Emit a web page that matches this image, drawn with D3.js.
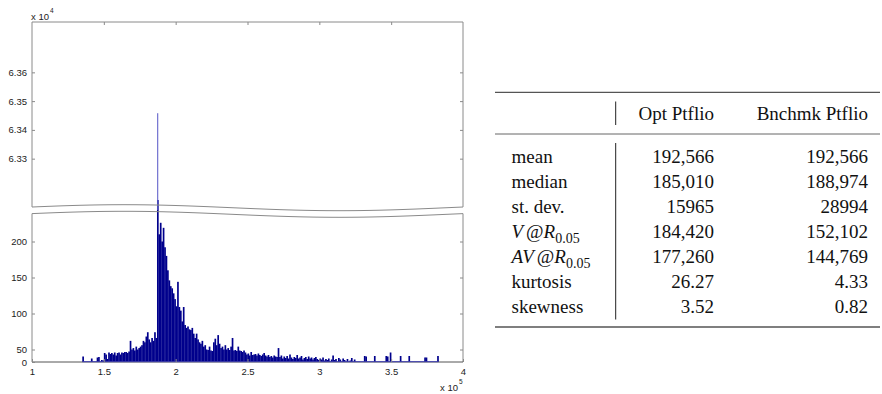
<!DOCTYPE html>
<html><head><meta charset="utf-8">
<script src="https://cdn.jsdelivr.net/npm/d3@7"></script>
</head><body style="margin:0;background:#fff">
<svg id="s" width="882" height="394" style="display:block"></svg>
<script>
// ---------- DATA ----------
const binStart = 135000;   // left edge of first histogram bin
const binWidth = 1000;     // bin width
const counts = [
  22, 0, 0, 0, 0, 0, 14, 0, 0, 0,            // 135k-144k
  18, 20, 0, 8, 6, 36, 30, 12, 38, 32,       // 145k-154k
  36, 30, 38, 26, 36, 38, 30, 38, 36, 40,    // 155k-164k
  40, 36, 42, 62, 50, 52, 46, 54, 50, 52,    // 165k-174k
  54, 56, 62, 60, 68, 74, 64, 60, 66, 62,    // 175k-184k
  74, 66, 63458, 210, 226, 200, 219, 192, 180, 160, // 185k-194k
  146, 138, 135, 128, 120, 110, 144, 109, 104, 89,  // 195k-204k
  109, 84, 80, 82, 78, 77, 80, 72, 66, 72,   // 205k-214k
  64, 60, 58, 62, 54, 56, 50, 48, 54, 46,    // 215k-224k
  44, 60, 65, 56, 70, 58, 52, 54, 50, 56,    // 225k-234k
  50, 52, 48, 54, 66, 46, 48, 44, 54, 46,    // 235k-244k
  44, 40, 46, 38, 30, 34, 26, 40, 28, 30,    // 245k-254k
  32, 26, 34, 28, 24, 30, 36, 26, 22, 28,    // 255k-264k
  20, 24, 18, 26, 22, 20, 52, 20, 26, 14,    // 265k-274k
  22, 16, 24, 14, 30, 18, 12, 20, 16, 28,    // 275k-284k
  14, 18, 24, 10, 16, 20, 12, 22, 14, 18,    // 285k-294k
  10, 16, 20, 12, 8, 14, 10, 18, 6, 12,      // 295k-304k
  8, 14, 0, 10, 26, 8, 12, 0, 16, 10,        // 305k-314k
  0, 14, 8, 0, 12, 0, 6, 16, 0, 10,          // 315k-324k
  0, 0, 0, 0, 0, 0, 24, 22, 0, 0,            // 325k-334k
  0, 0, 0, 24, 0, 0, 0, 0, 0, 0,             // 335k-344k
  0, 24, 22, 0, 38, 0, 0, 0, 0, 0,           // 345k-354k
  0, 24, 0, 0, 0, 0, 0, 24, 0, 0,            // 355k-364k
  0, 0, 0, 0, 0, 0, 0, 0, 18, 18,            // 365k-374k
  0, 0, 0, 0, 0, 0, 0, 24                    // 375k-382k
];
const xTicks = [100000, 150000, 200000, 250000, 300000, 350000, 400000];
const lowerTicks = [0, 50, 100, 150, 200];
const upperTicks = [63300, 63400, 63500, 63600];

const colHeaders = ["Opt Ptflio", "Bnchmk Ptflio"];
const rowLabels = ["mean", "median", "st. dev.", "V@R_0.05", "AV@R_0.05", "kurtosis", "skewness"];
const optValues = ["192,566", "185,010", "15965", "184,420", "177,260", "26.27", "3.52"];
const bnchValues = ["192,566", "188,974", "28994", "152,102", "144,769", "4.33", "0.82"];

// ---------- LAYOUT ----------
const svg = d3.select("#s");
const L = 32, R = 463, T = 22, B = 362;
const axisGray = "#8a8a8a";
const barColor = "#00008c";
const tickFont = '"Liberation Sans", monospace';
const serifFont = '"Liberation Serif", monospace';

const x = d3.scaleLinear().domain([100000, 400000]).range([L, R]);
const yLow = d3.scaleLinear().domain([0, 50, 240]).range([B, 349.5, 212.7]);
const yUp = d3.scaleLinear().domain([63132, 63775]).range([207, 22]);

// break waves
const waveUp = px => 207.7 - 3 * Math.sin(2 * Math.PI * (px - L) / (R - L) + 0.23);
const waveLow = px => waveUp(px) + 6.6;
const wavePts = d3.range(L, R + 0.01, 2).concat([R]);

const bins = counts.map((c, i) => ({x0: binStart + i * binWidth, x1: binStart + (i + 1) * binWidth, c}));

// clip paths
const defs = svg.append("defs");
defs.append("clipPath").attr("id", "clipUp").append("rect")
  .attr("x", L).attr("y", T).attr("width", R - L).attr("height", 188);
defs.append("clipPath").attr("id", "clipLow").append("rect")
  .attr("x", L).attr("y", 200).attr("width", R - L).attr("height", B - 200);

// lower panel bars
svg.append("g").attr("clip-path", "url(#clipLow)")
  .selectAll("rect").data(bins.filter(d => d.c > 0)).join("rect")
  .attr("x", d => x(d.x0))
  .attr("width", d => x(d.x1) - x(d.x0) + 0.25)
  .attr("y", d => yLow(d.c))
  .attr("height", d => B - yLow(d.c))
  .attr("fill", barColor);

// upper panel bars
svg.append("g").attr("clip-path", "url(#clipUp)")
  .selectAll("rect").data(bins.filter(d => d.c > yUp.domain()[0])).join("rect")
  .attr("x", d => x(d.x0) + 0.2)
  .attr("width", d => x(d.x1) - x(d.x0) - 0.4)
  .attr("y", d => yUp(d.c))
  .attr("height", d => 215 - yUp(d.c))
  .attr("fill", "#5a5ac8");

// box lines
const line = (x1, y1, x2, y2, col, w) => svg.append("line")
  .attr("x1", x1).attr("y1", y1).attr("x2", x2).attr("y2", y2)
  .attr("stroke", col).attr("stroke-width", w || 1);
line(L, T, R, T, axisGray);
line(L, T, L, waveUp(L), axisGray);
line(R, T, R, waveUp(R), axisGray);
line(L, waveLow(L), L, B, axisGray);
line(R, waveLow(R), R, B, axisGray);
line(L, B, R, B, "#555");
// blue zero-edge of histogram
line(x(bins[0].x0), B - 0.3, x(bins[bins.length - 1].x1), B - 0.3, "#3b3bb0");

// waves
const wl = d3.line();
svg.append("path").attr("d", wl(wavePts.map(p => [p, waveUp(p)])))
  .attr("fill", "none").attr("stroke", axisGray).attr("stroke-width", 1);
svg.append("path").attr("d", wl(wavePts.map(p => [p, waveLow(p)])))
  .attr("fill", "none").attr("stroke", axisGray).attr("stroke-width", 1);

// axes
function styleAxis(g) {
  g.attr("font-family", null).attr("font-size", null);
  g.select(".domain").remove();
  g.selectAll(".tick line").attr("stroke", axisGray);
  g.selectAll(".tick text").attr("fill", "#222")
    .style("font-family", tickFont, "important").style("font-size", "9.5px", "important");
}
svg.append("g").attr("transform", `translate(0,${B})`)
  .call(d3.axisBottom(x).tickValues(xTicks).tickFormat(d => String(d / 1e5))
    .tickSizeInner(-3).tickSizeOuter(0).tickPadding(6)).call(styleAxis);
svg.append("g").attr("transform", `translate(0,${T})`)
  .call(d3.axisTop(x).tickValues(xTicks.slice(1, -1)).tickFormat("")
    .tickSizeInner(-3).tickSizeOuter(0)).call(styleAxis);
svg.append("g").attr("transform", `translate(${L},0)`)
  .call(d3.axisLeft(yLow).tickValues(lowerTicks)
    .tickSizeInner(-3).tickSizeOuter(0).tickPadding(5)).call(styleAxis);
svg.append("g").attr("transform", `translate(${R},0)`)
  .call(d3.axisRight(yLow).tickValues(lowerTicks.slice(1)).tickFormat("")
    .tickSizeInner(-3).tickSizeOuter(0)).call(styleAxis);
svg.append("g").attr("transform", `translate(${L},0)`)
  .call(d3.axisLeft(yUp).tickValues(upperTicks).tickFormat(d => (d / 1e4).toFixed(2))
    .tickSizeInner(-3).tickSizeOuter(0).tickPadding(5)).call(styleAxis);
svg.append("g").attr("transform", `translate(${R},0)`)
  .call(d3.axisRight(yUp).tickValues(upperTicks).tickFormat("")
    .tickSizeInner(-3).tickSizeOuter(0)).call(styleAxis);

// exponent labels
function expLabel(px, py, exp) {
  const t = svg.append("text").attr("x", px).attr("y", py).attr("fill", "#222")
    .style("font-family", tickFont, "important").style("font-size", "9.5px");
  t.append("tspan").text("x 10");
  t.append("tspan").attr("dy", -7).attr("dx", 1).style("font-size", "6.5px").text(exp);
}
expLabel(31, 19.5, "4");
expLabel(440, 391, "5");

// ---------- TABLE ----------
const tL = 495, tR = 880, labelX = 511.5, optX = 714, bnchX = 868, sepX = 615.7;
const rowY0 = 156, rowStep = 25, base = 6.5;
const ruleCol = "#555";
line(tL, 92.3, tR, 92.3, ruleCol, 1.3);
line(tL, 134, tR, 134, ruleCol, 0.9);
line(tL, 327, tR, 327, ruleCol, 1.3);
line(sepX, 101.5, sepX, 125, "#222", 1);
line(sepX, 143, sepX, 319.5, "#222", 1);

function serifText(sel) {
  return sel.attr("font-family", "Liberation Serif")
    .style("font-family", serifFont, "important")
    .attr("font-size", 19).attr("fill", "#111");
}

svg.selectAll("text.head").data(colHeaders).join("text").attr("class", "head")
  .attr("x", (d, i) => i === 0 ? optX : bnchX).attr("y", 113 + base)
  .attr("text-anchor", "end").call(serifText).text(d => d);

svg.selectAll("text.rlab").data(rowLabels).join("text").attr("class", "rlab")
  .attr("x", labelX).attr("y", (d, i) => rowY0 + i * rowStep + base)
  .call(serifText)
  .each(function(lab) {
    const t = d3.select(this);
    if (lab.includes("@")) {
      const pre = lab.split("@")[0];
      const sub = lab.split("_")[1];
      t.append("tspan").style("font-style", "italic").text(pre);
      t.append("tspan").attr("dx", 3).text("@");
      t.append("tspan").style("font-style", "italic").text("R");
      t.append("tspan").attr("dy", 5).attr("font-size", 14).text(sub);
    } else {
      t.text(lab);
    }
  });

svg.selectAll("text.opt").data(optValues).join("text").attr("class", "opt")
  .attr("x", optX).attr("y", (d, i) => rowY0 + i * rowStep + base)
  .attr("text-anchor", "end").call(serifText).text(d => d);
svg.selectAll("text.bnch").data(bnchValues).join("text").attr("class", "bnch")
  .attr("x", bnchX).attr("y", (d, i) => rowY0 + i * rowStep + base)
  .attr("text-anchor", "end").call(serifText).text(d => d);
</script>
</body></html>
